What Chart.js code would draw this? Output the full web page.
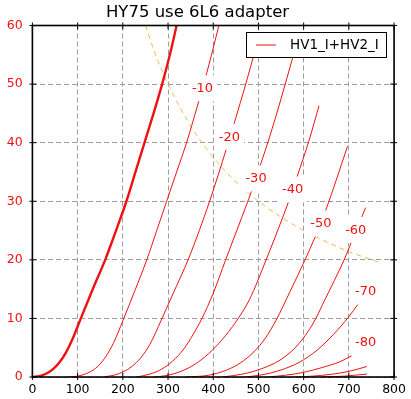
<!DOCTYPE html>
<html><head><meta charset="utf-8">
<script src="https://cdn.jsdelivr.net/npm/chart.js@4.4.0/dist/chart.umd.min.js"></script>
<style>html,body{margin:0;padding:0;background:#fff;}canvas{display:block;}</style>
</head><body>
<canvas id="c" width="411" height="399"></canvas>
<script>
// ---------- data ----------
const chartTitle = "HY75 use 6L6 adapter";
const seriesName = "HV1_I+HV2_I";
const xTicks = [0, 100, 200, 300, 400, 500, 600, 700, 800];
const yTicks = [0, 10, 20, 30, 40, 50, 60];

// plate voltage [V], plate current [mA] pairs
const vg0    = [[0,0],[15,0.15],[30,0.55],[45,1.3],[60,2.5],[75,4.3],[90,6.7],[106,9.8],[133,14.9],[161,20],[185,25],[208,30],[228,35],[248,40],[268,45],[287,50],[304,55],[319,60],[325,62]];
const vgM10  = [[80,0],[100,0.15],[120,0.6],[140,1.5],[160,3.2],[180,5.9],[200,9.6],[227,14.8],[253,20],[275,25],[297,30],[319,35],[341,40],[364,46],[386,52],[406,58],[414,60.5],[418,61.8]];
const vgM20  = [[160,0.05],[180,0.3],[200,0.85],[220,1.8],[240,3.3],[260,5.6],[285,9.7],[308,13.7],[346,20.3],[392,30],[430,39.2],[470,49.5],[497,57]];
const vgM30  = [[230,0],[260,0.5],[285,1.3],[310,2.7],[335,4.8],[355,7.2],[375,10],[400,14.3],[427,19.9],[455,25.6],[486,32],[506,36.6],[524,40.8],[550,47.5],[575,54.3],[582,56.2]];
const vgM40  = [[270,0],[300,0.3],[330,1.0],[360,2.2],[390,4.0],[420,6.4],[450,9.4],[480,13.2],[517,20],[545,25.5],[567,30],[586,34.3],[612,40.4],[634,46.3]];
const vgM50  = [[340,0],[390,0.3],[430,1.2],[460,2.4],[490,4.3],[515,6.6],[539,9.7],[570,14.6],[603,20],[626,24],[649,28.5],[672,33.6],[697,39.4]];
const vgM60  = [[420,0],[465,0.5],[510,1.5],[550,3.0],[585,5.3],[610,7.8],[627,10],[647,13.2],[668,16.5],[689.5,20],[704,22.7],[715,24.8],[728.5,27.3],[737,28.9]];
const vgM70  = [[470,0],[510,0.4],[550,1.2],[590,2.5],[630,4.6],[665,7.2],[700,10.3],[720,12.4]];
const vgM80  = [[520,0],[560,0.3],[600,0.8],[640,1.6],[680,2.6],[706,3.6]];
const vgM90  = [[580,0],[620,0.15],[660,0.45],[700,0.95],[740,1.8]];
const vgM100 = [[640,0],[690,0.15],[740,0.5]];
const curves = [vg0, vgM10, vgM20, vgM30, vgM40, vgM50, vgM60, vgM70, vgM80, vgM90, vgM100];

// max dissipation line
const limitV = [250, 275, 300, 350, 400, 450, 500, 550, 600, 650, 700, 766];
const limitI = [60, 54.5, 50, 42.9, 37.5, 33.3, 30, 27.3, 25, 23.1, 21.4, 19.6];

// inline curve labels
const curveLabels = ["-10", "-20", "-30", "-40", "-50", "-60", "-70", "-80"];
const curveLabelV = [376.3, 435.8, 494.7, 575.5, 638.1, 715.3, 737.3, 737.3];
const curveLabelI = [49.3, 41.0, 33.9, 32.0, 26.2, 25.1, 14.6, 6.0];

// ---------- style ----------
const FONT = "'DejaVu Sans', sans-serif";
const RED = '#ee1111';

const datasets = curves.map((c, i) => ({
  label: seriesName,
  data: c.map(([x, y]) => ({x, y})),
  borderColor: RED,
  borderWidth: i === 0 ? 2.4 : 1,
  pointRadius: 0,
  fill: false,
  cubicInterpolationMode: 'monotone'
}));
datasets.push({
  label: 'Pmax',
  data: limitV.map((v, i) => ({x: v, y: limitI[i]})),
  borderColor: 'rgba(245,170,60,0.85)',
  borderWidth: 1,
  borderDash: [5, 4],
  pointRadius: 0,
  fill: false,
  cubicInterpolationMode: 'monotone'
});

const decor = {
  id: 'decor',
  afterDatasetsDraw(chart) {
    const {ctx, chartArea: a, scales: {x, y}} = chart;
    ctx.save();
    ctx.font = `13px ${FONT}`;
    ctx.textAlign = 'center';
    ctx.textBaseline = 'middle';
    curveLabels.forEach((t, i) => {
      const px = x.getPixelForValue(curveLabelV[i]);
      const py = y.getPixelForValue(curveLabelI[i]);
      const w = ctx.measureText(t).width + 8, h = 26;
      ctx.fillStyle = '#fff';
      ctx.fillRect(px - w / 2, py - h / 2, w, h);
      ctx.fillStyle = RED;
      ctx.fillText(t, px, py + 0.5);
    });
    // legend
    const bw = 140, bh = 25;
    const bx = a.right - 8 - bw, by = a.top + 6.5;
    ctx.fillStyle = '#fff';
    ctx.fillRect(bx, by, bw, bh);
    ctx.strokeStyle = '#000';
    ctx.lineWidth = 1;
    ctx.strokeRect(Math.round(bx) + 0.5, Math.round(by) + 0.5, bw, bh);
    ctx.strokeStyle = RED;
    ctx.beginPath();
    ctx.moveTo(bx + 10, by + bh / 2 + 0.5);
    ctx.lineTo(bx + 30, by + bh / 2 + 0.5);
    ctx.stroke();
    ctx.fillStyle = '#000';
    ctx.textAlign = 'left';
    ctx.font = `13.5px ${FONT}`;
    ctx.fillText(seriesName, bx + 44, by + bh / 2 + 1);
    ctx.restore();
  },
  afterDraw(chart) {
    const {ctx, chartArea: a, scales: {x, y}} = chart;
    ctx.save();
    ctx.strokeStyle = '#000';
    ctx.lineWidth = 1;
    ctx.beginPath();
    xTicks.forEach(v => {
      const p = x.getPixelForValue(v);
      ctx.moveTo(p, a.bottom + 3); ctx.lineTo(p, a.bottom - 4);
      ctx.moveTo(p, a.top - 3); ctx.lineTo(p, a.top + 4);
    });
    yTicks.forEach(v => {
      const p = y.getPixelForValue(v);
      ctx.moveTo(a.left - 3, p); ctx.lineTo(a.left + 4, p);
      ctx.moveTo(a.right + 3, p); ctx.lineTo(a.right - 4, p);
    });
    ctx.stroke();
    ctx.lineWidth = 1.6;
    ctx.strokeRect(a.left, a.top, a.right - a.left, a.bottom - a.top);
    ctx.restore();
  }
};

new Chart(document.getElementById('c'), {
  type: 'line',
  data: {datasets},
  options: {
    responsive: false,
    animation: false,
    devicePixelRatio: 1,
    layout: {padding: {left: 0, right: 16, top: 0, bottom: 0}},
    plugins: {
      legend: {display: false},
      tooltip: {enabled: false},
      title: {
        display: true,
        text: chartTitle,
        color: '#000',
        font: {family: FONT, size: 16.5, weight: 'normal'},
        padding: {top: 2.5, bottom: 3.2}
      }
    },
    scales: {
      x: {
        type: 'linear', min: 0, max: 800,
        afterFit: s => { s.height = 22; },
        ticks: {stepSize: 100, color: '#000', padding: 5, maxRotation: 0, autoSkip: false,
          font: {family: FONT, size: 12.5}},
        grid: {color: '#9c9c9c', lineWidth: 1, drawTicks: false},
        border: {display: false, dash: [5, 3]}
      },
      y: {
        type: 'linear', min: 0, max: 60,
        afterFit: s => { s.width = 32.4; },
        ticks: {stepSize: 10, color: RED, padding: 9.7, autoSkip: false,
          font: {family: FONT, size: 12.5}},
        grid: {color: '#9c9c9c', lineWidth: 1, drawTicks: false},
        border: {display: false, dash: [5, 3]}
      }
    }
  },
  plugins: [decor]
});
</script>
</body></html>
